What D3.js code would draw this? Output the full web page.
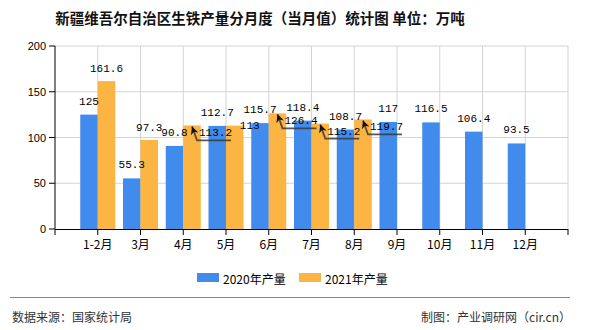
<!DOCTYPE html>
<html><head><meta charset="utf-8">
<script src="https://cdn.jsdelivr.net/npm/d3@7/dist/d3.min.js"></script>
<style>body{margin:0;background:#fff}svg{display:block}</style>
</head><body>
<svg id="c" width="590" height="330"></svg>
<script>
const categories = ["1-2月","3月","4月","5月","6月","7月","8月","9月","10月","11月","12月"];
const series2020 = [125, 55.3, 90.8, 112.7, 115.7, 118.4, 108.7, 117, 116.5, 106.4, 93.5];
const series2021 = [161.6, 97.3, 113.2, 113, 126.4, 115.2, 119.7, null, null, null, null];
const seriesNames = ["2020年产量","2021年产量"];
const yTicks = [0, 50, 100, 150, 200];
const colors = ["#418bec", "#fcb443"];
// label placement for 2021 values that would overlap: callout / shifted right
const callout2021 = [2, 4, 5, 6];
const shift2021 = [3];

const svg = d3.select("#c");
const L = 55, R = 568, T = 46, B = 229;
const step = (R - L) / (categories.length + 1);
const x = d3.scaleBand().domain(categories).range([L + step/2, R - step/2]).paddingInner(0).paddingOuter(0);
const y = d3.scaleLinear().domain([0, 200]).range([B, T]);
const barW = 17.5;
const cx = c => x(c) + x.bandwidth()/2;

svg.append("text").attr("x", 260).attr("y", 17).attr("text-anchor","middle")
  .attr("dominant-baseline","central").attr("font-family","Noto Sans CJK SC").attr("font-size",14.5)
  .attr("font-weight","bold").attr("fill","#111").text("新疆维吾尔自治区生铁产量分月度（当月值）统计图 单位：万吨");

// grid
const g = svg.append("g");
g.selectAll(".hg").data(yTicks.filter(d=>d>0)).join("line")
  .attr("x1", L).attr("x2", R).attr("y1", d=>y(d)).attr("y2", d=>y(d))
  .attr("stroke","#d3d3d3").attr("stroke-width",1);
g.selectAll(".vg").data(categories.map(cx).concat([R])).join("line")
  .attr("x1", d=>d).attr("x2", d=>d).attr("y1", T).attr("y2", B)
  .attr("stroke","#d3d3d3").attr("stroke-width",1);

// bars
const bars = svg.append("g");
bars.selectAll(".b0").data(categories).join("rect")
  .attr("x", c=>cx(c)-barW).attr("width", barW)
  .attr("y", (c,i)=>y(series2020[i])).attr("height", (c,i)=>y(0)-y(series2020[i]))
  .attr("fill", colors[0]);
bars.selectAll(".b1").data(categories.filter((c,i)=>series2021[i]!=null)).join("rect")
  .attr("x", c=>cx(c)).attr("width", barW)
  .attr("y", (c,i)=>y(series2021[i])).attr("height", (c,i)=>y(0)-y(series2021[i]))
  .attr("fill", colors[1]);

// axes
svg.append("line").attr("x1",L).attr("x2",L).attr("y1",T).attr("y2",B).attr("stroke","#000");
svg.append("line").attr("x1",L).attr("x2",R).attr("y1",B+0.5).attr("y2",B+0.5).attr("stroke","#000");
svg.selectAll(".yt").data(yTicks).join("line")
  .attr("x1",L-6).attr("x2",L).attr("y1",d=>y(d)).attr("y2",d=>y(d)).attr("stroke","#000");
svg.selectAll(".yl").data(yTicks).join("text")
  .attr("x",46).attr("y",d=>y(d)).attr("text-anchor","end").attr("dominant-baseline","central")
  .attr("font-family","Liberation Sans").attr("font-size",11).attr("fill","#000").text(d=>d);
svg.selectAll(".xt").data([L].concat(categories.map(cx)).concat([R])).join("line")
  .attr("x1",d=>d).attr("x2",d=>d).attr("y1",B).attr("y2",B+6).attr("stroke","#000");
svg.selectAll(".xl").data(categories).join("text")
  .attr("x",c=>cx(c)).attr("y",243).attr("text-anchor","middle").attr("dominant-baseline","central")
  .attr("font-family","Noto Sans CJK SC").attr("font-size",12).attr("fill","#000").text(c=>c);

// labels
const lf = "Liberation Mono", ls = 11;
svg.selectAll(".l0").data(categories).join("text")
  .attr("x", c=>cx(c)-barW/2).attr("y",(c,i)=>y(series2020[i])-13)
  .attr("text-anchor","middle").attr("dominant-baseline","central")
  .attr("font-family",lf).attr("font-size",ls).attr("fill","#000").text((c,i)=>series2020[i]);

svg.append("defs").append("marker").attr("id","arr").attr("viewBox","0 0 10 10")
  .attr("refX",10).attr("refY",5).attr("markerWidth",8).attr("markerHeight",8)
  .attr("orient","auto-start-reverse").attr("markerUnits","userSpaceOnUse")
  .append("path").attr("d","M10,5 L0,0 L3,5 L0,10 Z").attr("fill","#111");

categories.forEach((c,i)=>{
  const v = series2021[i];
  if (v == null) return;
  const bx = cx(c) + barW/2, top = y(v);
  if (callout2021.includes(i)) {
    svg.append("path").attr("d",`M${bx},${top+1} L${bx+5},${top+15} L${bx+39},${top+15}`)
      .attr("fill","none").attr("stroke","#3a3a3a").attr("stroke-width",1.8).attr("stroke-opacity",0.85)
      .attr("marker-start","url(#arr)");
    svg.append("text").attr("x",bx+7).attr("y",top+8).attr("dominant-baseline","central")
      .attr("font-family",lf).attr("font-size",ls).attr("fill","#000").text(v);
  } else if (shift2021.includes(i)) {
    svg.append("text").attr("x",bx+15).attr("y",top).attr("text-anchor","middle").attr("dominant-baseline","central")
      .attr("font-family",lf).attr("font-size",ls).attr("fill","#000").text(v);
  } else {
    svg.append("text").attr("x",bx).attr("y",top-12).attr("text-anchor","middle").attr("dominant-baseline","central")
      .attr("font-family",lf).attr("font-size",ls).attr("fill","#000").text(v);
  }
});

// legend
const lx = [197, 299];
seriesNames.forEach((n,i)=>{
  svg.append("rect").attr("x",lx[i]).attr("y",273).attr("width",22).attr("height",9).attr("fill",colors[i]);
  svg.append("text").attr("x",lx[i]+26).attr("y",278).attr("dominant-baseline","central")
    .attr("font-family","Noto Sans CJK SC").attr("font-size",12).attr("fill","#000").text(n);
});

// footer
svg.append("line").attr("x1",10).attr("x2",570).attr("y1",297.5).attr("y2",297.5).attr("stroke","#888").attr("stroke-width",1);
svg.append("text").attr("x",12).attr("y",316).attr("dominant-baseline","central")
  .attr("font-family","Noto Sans CJK SC").attr("font-size",12).attr("fill","#333").text("数据来源：国家统计局");
svg.append("text").attr("x",571).attr("y",316).attr("text-anchor","end").attr("dominant-baseline","central")
  .attr("font-family","Noto Sans CJK SC").attr("font-size",12).attr("fill","#333").text("制图：产业调研网（cir.cn）");
</script>
</body></html>
